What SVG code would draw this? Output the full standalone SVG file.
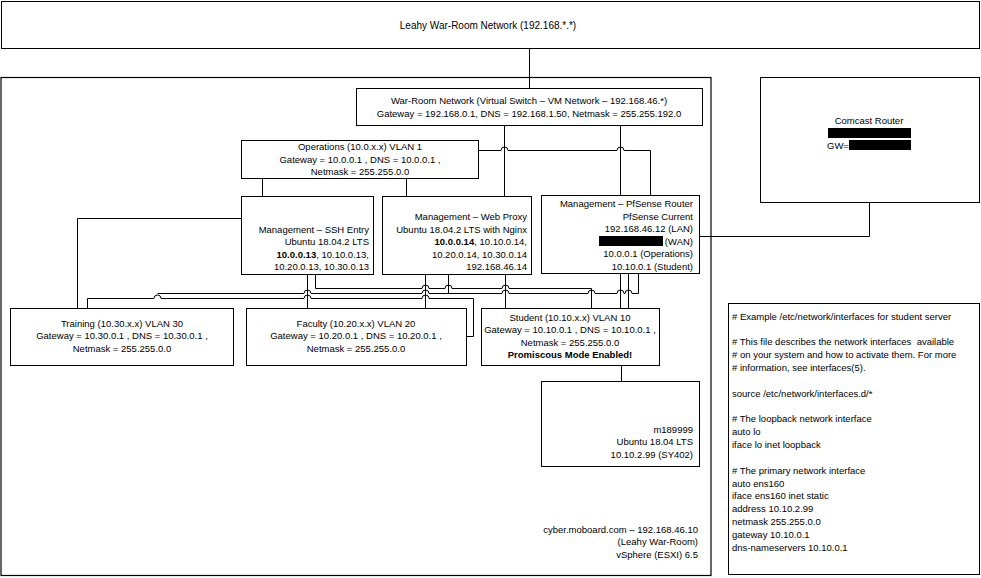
<svg xmlns="http://www.w3.org/2000/svg" width="981" height="578" viewBox="0 0 981 578">
<style>
.box{fill:#fff;stroke:#000;stroke-width:1}
.frame{fill:none;stroke:#000;stroke-width:1.2}
.ln{fill:none;stroke:#000;stroke-width:1}
.t{font-family:"Liberation Sans",Arial,sans-serif;font-size:9.5px;fill:#000}
.c{text-anchor:middle}
.r{text-anchor:end}
.b{font-weight:bold}
.red{fill:#000}
</style>
<rect width="981" height="578" fill="#fff"/>

<g id="leahy-network">
<rect class="box" x="1.5" y="1.5" width="978" height="47"/>
<text class="t c" x="488" y="28.5" style="font-size:10px">Leahy War-Room Network (192.168.*.*)</text>
</g>

<g id="vsphere-host">
<rect class="frame" x="1" y="77.5" width="710" height="498"/>
<text class="t r" x="698" y="532.5">cyber.moboard.com – 192.168.46.10</text>
<text class="t r" x="698" y="545">(Leahy War-Room)</text>
<text class="t r" x="698" y="557.5">vSphere (ESXI) 6.5</text>
</g>

<g id="connectors">
<path class="ln" d="M529.5,48 V88"/>
<path class="ln" d="M504.5,125 V196"/>
<path class="ln" d="M620.5,125 V195"/>
<path class="ln" d="M478,150.5 H501 a3.5,3.5 0 0 1 7,0 H617 a3.5,3.5 0 0 1 7,0 H650.5 V195"/>
<path class="ln" d="M262.5,178 V196"/>
<path class="ln" d="M406.5,178 V196"/>
<path class="ln" d="M869.5,202 V236.5 H699"/>
<path class="ln" d="M241,218.5 H77.5 V308"/>
<path class="ln" d="M307.5,275 V308"/>
<path class="ln" d="M425.5,275 V308"/>
<path class="ln" d="M505.5,275 V308"/>
<path class="ln" d="M448.5,275 V293.5"/>
<path class="ln" d="M315.5,275 V288.5 H422 a3.5,3.5 0 0 1 7,0 H445 a3.5,3.5 0 0 1 7,0 H502 a3.5,3.5 0 0 1 7,0 H591.5 V308"/>
<path class="ln" d="M157.5,293.5 H304 a3.5,3.5 0 0 1 7,0 H422 a3.5,3.5 0 0 1 7,0 H502 a3.5,3.5 0 0 1 7,0 H588 a3.5,3.5 0 0 1 7,0 H617 a3.5,3.5 0 0 1 7,0 H625 a3.5,3.5 0 0 1 7,0 H638.5 V274"/>
<path class="ln" d="M87.5,308 V298.5 H154 a3.5,3.5 0 0 1 7,0 H304 a3.5,3.5 0 0 1 7,0 H422 a3.5,3.5 0 0 1 7,0 H473.5 V336.5 H466"/>
<path class="ln" d="M620.5,274 V308"/>
<path class="ln" d="M628.5,274 V308"/>
<path class="ln" d="M621.5,365 V381"/>
</g>

<g id="war-room-switch">
<rect class="box" x="356.5" y="88.5" width="346" height="37"/>
<text class="t c" x="529" y="103.5">War-Room Network (Virtual Switch – VM Network – 192.168.46.*)</text>
<text class="t c" x="529" y="116.5">Gateway = 192.168.0.1, DNS = 192.168.1.50, Netmask = 255.255.192.0</text>
</g>

<g id="operations">
<rect class="box" x="241.5" y="140.5" width="237" height="38"/>
<text class="t c" x="360" y="150">Operations (10.0.x.x) VLAN 1</text>
<text class="t c" x="360" y="162.5">Gateway = 10.0.0.1 , DNS = 10.0.0.1 ,</text>
<text class="t c" x="360" y="175">Netmask = 255.255.0.0</text>
</g>

<g id="ssh-entry">
<rect class="box" x="241.5" y="196.5" width="132" height="78"/>
<text class="t r" x="369" y="232.5">Management – SSH Entry</text>
<text class="t r" x="369" y="245">Ubuntu 18.04.2 LTS</text>
<text class="t r" x="369" y="257.5"><tspan class="b">10.0.0.13</tspan>, 10.10.0.13,</text>
<text class="t r" x="369" y="270">10.20.0.13, 10.30.0.13</text>
</g>

<g id="web-proxy">
<rect class="box" x="382.5" y="196.5" width="149" height="78"/>
<text class="t r" x="527" y="220">Management – Web Proxy</text>
<text class="t r" x="527" y="232.5">Ubuntu 18.04.2 LTS with Nginx</text>
<text class="t r" x="527" y="245"><tspan class="b">10.0.0.14</tspan>, 10.10.0.14,</text>
<text class="t r" x="527" y="257.5">10.20.0.14, 10.30.0.14</text>
<text class="t r" x="527" y="270">192.168.46.14</text>
</g>

<g id="pfsense">
<rect class="box" x="541.5" y="195.5" width="158" height="78"/>
<text class="t r" x="693" y="207">Management – PfSense Router</text>
<text class="t r" x="693" y="219.5">PfSense Current</text>
<text class="t r" x="693" y="232">192.168.46.12 (LAN)</text>
<rect class="red" x="599" y="236" width="64" height="10"/>
<text class="t r" x="693" y="244.5">(WAN)</text>
<text class="t r" x="693" y="257">10.0.0.1 (Operations)</text>
<text class="t r" x="693" y="269.5">10.10.0.1 (Student)</text>
</g>

<g id="comcast-router">
<rect class="box" x="760.5" y="77.5" width="219" height="125"/>
<text class="t c" x="869" y="124">Comcast Router</text>
<rect class="red" x="828" y="128" width="83" height="10"/>
<text class="t" x="827" y="149">GW=</text>
<rect class="red" x="849" y="140" width="62" height="10"/>
</g>

<g id="training">
<rect class="box" x="10.5" y="308.5" width="223" height="57"/>
<text class="t c" x="122" y="326.5">Training (10.30.x.x) VLAN 30</text>
<text class="t c" x="122" y="339">Gateway = 10.30.0.1 , DNS = 10.30.0.1 ,</text>
<text class="t c" x="122" y="351.5">Netmask = 255.255.0.0</text>
</g>

<g id="faculty">
<rect class="box" x="246.5" y="308.5" width="220" height="57"/>
<text class="t c" x="356" y="326.5">Faculty (10.20.x.x) VLAN 20</text>
<text class="t c" x="356" y="339">Gateway = 10.20.0.1 , DNS = 10.20.0.1 ,</text>
<text class="t c" x="356" y="351.5">Netmask = 255.255.0.0</text>
</g>

<g id="student">
<rect class="box" x="481.5" y="308.5" width="178" height="57"/>
<text class="t c" x="570" y="320.5">Student (10.10.x.x) VLAN 10</text>
<text class="t c" x="570" y="333">Gateway = 10.10.0.1 , DNS = 10.10.0.1 ,</text>
<text class="t c" x="570" y="345.5">Netmask = 255.255.0.0</text>
<text class="t c b" x="570" y="358">Promiscous Mode Enabled!</text>
</g>

<g id="m189999">
<rect class="box" x="541.5" y="381.5" width="158" height="85"/>
<text class="t r" x="693" y="432.5">m189999</text>
<text class="t r" x="693" y="445">Ubuntu 18.04 LTS</text>
<text class="t r" x="693" y="457.5">10.10.2.99 (SY402)</text>
</g>

<g id="interfaces-note">
<rect class="box" x="728.5" y="303.5" width="251" height="271"/>
<text class="t" x="732" y="319.5" style="white-space:pre">
<tspan x="732" y="319.5"># Example /etc/network/interfaces for student server</tspan>
<tspan x="732" y="345.2"># This file describes the network interfaces  available</tspan>
<tspan x="732" y="358"># on your system and how to activate them. For more</tspan>
<tspan x="732" y="370.9"># information, see interfaces(5).</tspan>
<tspan x="732" y="396.6">source /etc/network/interfaces.d/*</tspan>
<tspan x="732" y="422.3"># The loopback network interface</tspan>
<tspan x="732" y="435.2">auto lo</tspan>
<tspan x="732" y="448">iface lo inet loopback</tspan>
<tspan x="732" y="473.7"># The primary network interface</tspan>
<tspan x="732" y="486.5">auto ens160</tspan>
<tspan x="732" y="499.4">iface ens160 inet static</tspan>
<tspan x="732" y="512.2">address 10.10.2.99</tspan>
<tspan x="732" y="525.1">netmask 255.255.0.0</tspan>
<tspan x="732" y="537.9">gateway 10.10.0.1</tspan>
<tspan x="732" y="550.8">dns-nameservers 10.10.0.1</tspan>
</text>
</g>
</svg>
